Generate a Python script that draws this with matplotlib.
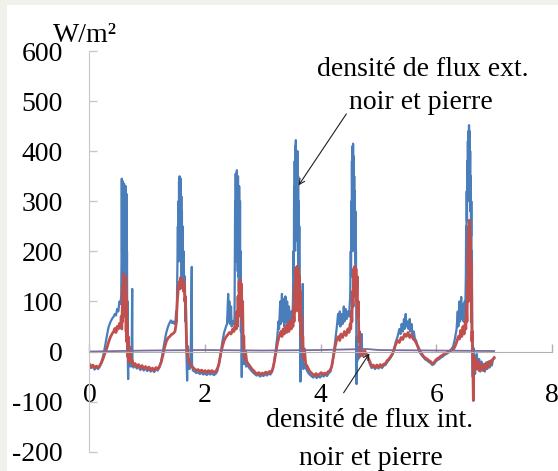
import matplotlib.pyplot as plt
from matplotlib.patches import Rectangle

# relevés (jours, W/m²)
# densité de flux ext. (bleu)
ext_pts = [
    (0.00, -30), (0.03, -33), (0.06, -30), (0.09, -36), (0.12, -31), (0.15, -35), (0.18, -30),
    (0.21, -20), (0.24, -8), (0.27, 10), (0.30, 30), (0.33, 48), (0.36, 58), (0.39, 65),
    (0.42, 70), (0.44, 75), (0.46, 72), (0.48, 85), (0.50, 80), (0.52, 100), (0.54, 95),
    (0.55, 112), (0.555, 180), (0.56, 345), (0.565, 200), (0.57, 330), (0.575, 150),
    (0.58, 340), (0.585, 220), (0.59, 310), (0.595, 160), (0.60, 335), (0.605, 200),
    (0.61, 320), (0.615, 140), (0.62, 300), (0.625, 180), (0.63, 330), (0.635, 120),
    (0.64, 315), (0.645, 90), (0.65, 200), (0.655, 30), (0.66, 100), (0.665, -20),
    (0.67, -55), (0.675, 10), (0.68, -30), (0.69, 0), (0.70, -25), (0.71, -10), (0.72, -30),
    (0.73, -20), (0.74, 125), (0.745, -25), (0.76, -32), (0.79, -28), (0.82, -34),
    (0.85, -30), (0.88, -37), (0.91, -32), (0.94, -38), (0.97, -33), (1.00, -39),
    (1.03, -35), (1.06, -40), (1.09, -36), (1.12, -41), (1.15, -35), (1.18, -38), (1.21, -32),
    (1.24, -20), (1.27, 0), (1.30, 20), (1.33, 38), (1.36, 50), (1.39, 58), (1.41, 62),
    (1.43, 57), (1.45, 60), (1.47, 55), (1.49, 62), (1.50, 80), (1.51, 60), (1.52, 150),
    (1.53, 250), (1.535, 180), (1.54, 300), (1.545, 200), (1.55, 340), (1.555, 250),
    (1.56, 350), (1.565, 220), (1.57, 330), (1.575, 180), (1.58, 345), (1.585, 200),
    (1.59, 310), (1.595, 150), (1.60, 280), (1.605, 130), (1.61, 250), (1.62, 140),
    (1.63, 200), (1.64, 120), (1.65, 150), (1.66, 60), (1.67, 90), (1.68, -10), (1.69, -58),
    (1.70, -10), (1.71, -30), (1.72, -15), (1.73, -35), (1.75, -30), (1.77, 169),
    (1.775, -25), (1.79, -38), (1.82, -40), (1.85, -43), (1.88, -41), (1.91, -45),
    (1.94, -42), (1.97, -46), (2.00, -43), (2.03, -47), (2.06, -43), (2.09, -46),
    (2.12, -43), (2.15, -47), (2.18, -45), (2.21, -40),
    (2.24, -25), (2.27, -5), (2.30, 20), (2.33, 38), (2.36, 49), (2.38, 55), (2.40, 115),
    (2.41, 60), (2.42, 100), (2.43, 55), (2.45, 90), (2.46, 50), (2.48, 60), (2.50, 55),
    (2.51, 70), (2.515, 200), (2.52, 300), (2.525, 180), (2.53, 355), (2.535, 220),
    (2.54, 340), (2.545, 180), (2.55, 362), (2.555, 210), (2.56, 330), (2.565, 160),
    (2.57, 350), (2.575, 150), (2.58, 310), (2.585, 120), (2.59, 330), (2.60, 150),
    (2.605, 300), (2.61, 100), (2.615, 200), (2.62, 40), (2.625, 100), (2.63, -10),
    (2.635, -51), (2.64, 0), (2.65, -20), (2.66, 10), (2.67, -25), (2.69, -15), (2.71, -30),
    (2.74, -28), (2.77, -34), (2.80, -38), (2.83, -42), (2.86, -45), (2.89, -48),
    (2.92, -46), (2.95, -50), (2.98, -47), (3.01, -49), (3.04, -45), (3.07, -48),
    (3.10, -44), (3.13, -46), (3.16, -40),
    (3.19, -25), (3.22, 0), (3.25, 30), (3.27, 60), (3.28, 45), (3.30, 100), (3.31, 55),
    (3.33, 115), (3.34, 60), (3.36, 105), (3.37, 50), (3.39, 110), (3.40, 60), (3.42, 100),
    (3.43, 55), (3.45, 90), (3.47, 60), (3.49, 80), (3.51, 65), (3.52, 100), (3.53, 200),
    (3.535, 150), (3.54, 330), (3.545, 200), (3.55, 380), (3.555, 250), (3.56, 410),
    (3.565, 280), (3.57, 422), (3.575, 300), (3.58, 400), (3.585, 250), (3.59, 370),
    (3.595, 220), (3.60, 400), (3.605, 200), (3.61, 350), (3.615, 150), (3.62, 300),
    (3.625, 120), (3.63, 250), (3.635, 80), (3.64, 150), (3.645, -20), (3.65, -60),
    (3.655, 20), (3.66, -30), (3.67, 10), (3.68, -25), (3.69, 135), (3.695, -20),
    (3.70, -35), (3.72, -25), (3.75, -35), (3.78, -42), (3.81, -46), (3.84, -49),
    (3.87, -52), (3.90, -48), (3.93, -53), (3.96, -49), (3.99, -52), (4.02, -47),
    (4.05, -50), (4.08, -46), (4.11, -49), (4.14, -43), (4.17, -40),
    (4.20, -25), (4.23, 0), (4.26, 30), (4.28, 50), (4.30, 75), (4.31, 55), (4.33, 80),
    (4.34, 50), (4.36, 75), (4.38, 55), (4.40, 90), (4.41, 60), (4.43, 85), (4.45, 65),
    (4.47, 80), (4.49, 70), (4.51, 110), (4.52, 200), (4.525, 150), (4.53, 300),
    (4.535, 200), (4.54, 380), (4.545, 260), (4.55, 410), (4.555, 280), (4.56, 415),
    (4.565, 300), (4.57, 390), (4.575, 250), (4.58, 350), (4.585, 200), (4.59, 320),
    (4.595, 180), (4.60, 280), (4.605, 120), (4.61, 200), (4.615, 60), (4.62, -65),
    (4.625, 30), (4.63, -20), (4.64, 10), (4.65, -15), (4.67, 5), (4.69, -5), (4.71, 35),
    (4.715, -2), (4.73, -8), (4.76, 0), (4.79, -8), (4.82, -15), (4.85, -25), (4.88, -33),
    (4.91, -30), (4.94, -35), (4.97, -30), (5.00, -34), (5.03, -29), (5.06, -33),
    (5.09, -28), (5.12, -27), (5.15, -21), (5.18, -17), (5.21, -12), (5.24, -6),
    (5.27, 5), (5.30, 20), (5.33, 30), (5.36, 45), (5.38, 35), (5.40, 55), (5.42, 40),
    (5.44, 65), (5.45, 45), (5.47, 75), (5.48, 50), (5.50, 60), (5.52, 45), (5.54, 65),
    (5.55, 40), (5.57, 55), (5.59, 30), (5.61, 40), (5.63, 25), (5.65, 22), (5.67, 12),
    (5.69, 5), (5.72, -3), (5.75, -8), (5.78, -12), (5.81, -16), (5.84, -18), (5.87, -21),
    (5.90, -23), (5.93, -27), (5.96, -25), (5.99, -20), (6.02, -17), (6.05, -15),
    (6.08, -12), (6.11, -10), (6.14, -7), (6.17, -5), (6.20, -3), (6.23, 0), (6.26, 5),
    (6.29, 10), (6.32, 25), (6.35, 45), (6.37, 80), (6.38, 50), (6.40, 100), (6.41, 60),
    (6.43, 109), (6.44, 65), (6.46, 95), (6.47, 60), (6.49, 100), (6.50, 80), (6.51, 150),
    (6.515, 250), (6.52, 200), (6.525, 320), (6.53, 260), (6.535, 380), (6.54, 300),
    (6.545, 420), (6.55, 330), (6.555, 440), (6.56, 350), (6.565, 452), (6.57, 360),
    (6.575, 440), (6.58, 330), (6.585, 400), (6.59, 280), (6.595, 350), (6.60, 230),
    (6.605, 300), (6.61, 150), (6.615, 200), (6.62, 50), (6.625, -20), (6.63, -51),
    (6.635, 10), (6.64, -30), (6.65, 5), (6.66, -25), (6.67, -45), (6.68, -10), (6.69, -30),
    (6.70, -5), (6.72, -35), (6.74, -15), (6.76, -40), (6.78, -20), (6.80, -38), (6.82, -25),
    (6.84, -40), (6.86, -22), (6.88, -35), (6.90, -20), (6.92, -32), (6.94, -18),
    (6.96, -28), (6.98, -15), (7.00, -14),
]

# densité de flux int. (rouge)
int_pts = [
    (0.00, -25), (0.03, -30), (0.06, -27), (0.09, -33), (0.12, -29), (0.15, -32), (0.18, -28),
    (0.21, -22), (0.24, -13), (0.27, -3), (0.30, 6), (0.33, 18), (0.36, 28), (0.39, 35),
    (0.42, 40), (0.44, 46), (0.46, 38), (0.48, 50), (0.50, 45), (0.52, 56), (0.54, 50),
    (0.55, 70), (0.56, 45), (0.57, 95), (0.575, 60), (0.58, 130), (0.585, 90), (0.59, 155),
    (0.595, 100), (0.60, 150), (0.605, 80), (0.61, 145), (0.615, 90), (0.62, 150),
    (0.625, 70), (0.63, 140), (0.635, 40), (0.64, 110), (0.645, 20), (0.65, 60), (0.66, -10),
    (0.67, 30), (0.68, -20), (0.69, 10), (0.70, -15), (0.71, 5), (0.72, -22), (0.74, -18),
    (0.76, -28), (0.79, -24), (0.82, -30), (0.85, -26), (0.88, -33), (0.91, -28),
    (0.94, -34), (0.97, -30), (1.00, -35), (1.03, -31), (1.06, -37), (1.09, -33),
    (1.12, -38), (1.15, -32), (1.18, -35), (1.21, -30),
    (1.24, -22), (1.27, -8), (1.30, 8), (1.33, 20), (1.36, 27), (1.39, 30), (1.42, 34),
    (1.45, 36), (1.48, 40), (1.50, 55), (1.52, 100), (1.54, 130), (1.56, 140), (1.57, 125),
    (1.58, 148), (1.59, 135), (1.60, 145), (1.61, 130), (1.62, 142), (1.63, 120),
    (1.64, 135), (1.65, 100), (1.66, 110), (1.67, 60), (1.68, 20), (1.69, -5), (1.70, 10),
    (1.71, -15), (1.72, -20), (1.74, -25), (1.76, -28), (1.79, -32), (1.82, -35),
    (1.85, -38), (1.88, -36), (1.91, -40), (1.94, -37), (1.97, -41), (2.00, -38),
    (2.03, -42), (2.06, -38), (2.09, -41), (2.12, -38), (2.15, -42), (2.18, -40), (2.21, -35),
    (2.24, -25), (2.27, -5), (2.30, 10), (2.33, 22), (2.36, 29), (2.39, 33), (2.42, 38),
    (2.45, 35), (2.48, 45), (2.50, 40), (2.52, 55), (2.54, 45), (2.55, 80), (2.56, 50),
    (2.57, 110), (2.58, 70), (2.59, 140), (2.60, 90), (2.61, 142), (2.62, 80), (2.63, 135),
    (2.64, 60), (2.65, 100), (2.66, 10), (2.67, 30), (2.68, -15), (2.70, 0), (2.72, -20),
    (2.75, -25), (2.78, -30), (2.81, -35), (2.84, -38), (2.87, -42), (2.90, -45),
    (2.93, -42), (2.96, -46), (2.99, -43), (3.02, -45), (3.05, -41), (3.08, -44),
    (3.11, -40), (3.14, -42), (3.17, -35),
    (3.19, -25), (3.22, -5), (3.25, 15), (3.28, 30), (3.31, 40), (3.33, 30), (3.35, 45),
    (3.37, 35), (3.39, 50), (3.41, 38), (3.43, 55), (3.45, 40), (3.47, 60), (3.49, 45),
    (3.51, 65), (3.52, 50), (3.53, 90), (3.54, 60), (3.55, 130), (3.56, 80), (3.57, 165),
    (3.58, 100), (3.59, 170), (3.60, 90), (3.61, 165), (3.62, 80), (3.63, 150), (3.64, 60),
    (3.65, 120), (3.66, 30), (3.67, 70), (3.68, 0), (3.69, 30), (3.70, -15), (3.72, 5),
    (3.74, -25), (3.77, -30), (3.80, -38), (3.83, -42), (3.86, -45), (3.89, -48),
    (3.92, -44), (3.95, -48), (3.98, -45), (4.01, -42), (4.04, -46), (4.07, -43),
    (4.10, -45), (4.13, -40), (4.16, -38), (4.19, -30),
    (4.22, -10), (4.25, 10), (4.28, 25), (4.31, 30), (4.33, 22), (4.35, 35), (4.38, 28),
    (4.41, 40), (4.44, 32), (4.47, 45), (4.49, 38), (4.51, 55), (4.52, 45), (4.53, 80),
    (4.54, 60), (4.55, 120), (4.56, 90), (4.57, 165), (4.58, 110), (4.59, 170), (4.60, 120),
    (4.61, 165), (4.62, 100), (4.63, 150), (4.64, 70), (4.65, 100), (4.66, 20), (4.67, 40),
    (4.68, -10), (4.70, 0), (4.73, -8), (4.76, 2), (4.79, -5), (4.82, -12), (4.85, -20),
    (4.88, -30), (4.91, -27), (4.94, -32), (4.97, -27), (5.00, -31), (5.03, -26),
    (5.06, -30), (5.09, -25), (5.12, -24), (5.15, -18), (5.18, -15), (5.21, -10), (5.24, -5),
    (5.27, 5), (5.30, 15), (5.33, 22), (5.36, 18), (5.39, 28), (5.42, 24), (5.45, 35),
    (5.48, 30), (5.51, 38), (5.54, 28), (5.57, 34), (5.60, 25), (5.63, 22), (5.66, 15),
    (5.69, 8), (5.72, 0), (5.75, -5), (5.78, -10), (5.81, -13), (5.84, -15), (5.87, -18),
    (5.90, -20), (5.93, -24), (5.96, -22), (5.99, -17), (6.02, -14), (6.05, -12),
    (6.08, -9), (6.11, -7), (6.14, -5), (6.17, -3), (6.20, -1), (6.23, 1), (6.26, 3),
    (6.30, 5), (6.33, 12), (6.36, 22), (6.38, 30), (6.40, 25), (6.42, 42), (6.44, 30),
    (6.46, 50), (6.48, 35), (6.50, 60), (6.51, 45), (6.52, 90), (6.53, 60), (6.54, 140),
    (6.545, 100), (6.55, 200), (6.555, 140), (6.56, 250), (6.565, 170), (6.57, 262),
    (6.575, 160), (6.58, 240), (6.585, 130), (6.59, 220), (6.595, 100), (6.60, 180),
    (6.605, 60), (6.61, 120), (6.615, 20), (6.62, 40), (6.63, -20), (6.64, -98),
    (6.645, -40), (6.65, -10), (6.66, -30), (6.68, -15), (6.70, -35), (6.72, -20),
    (6.74, -38), (6.76, -25), (6.78, -35), (6.80, -28), (6.82, -38), (6.84, -25),
    (6.86, -33), (6.88, -22), (6.90, -30), (6.92, -20), (6.94, -25), (6.96, -18),
    (6.98, -15), (7.00, -12),
]

# troisième courbe, proche de zéro (violet)
amb_pts = [(0.0, 0), (1.0, 2), (2.0, 3), (3.0, 2), (4.0, 3), (4.8, 5), (5.0, 3), (6.0, 2), (7.0, 1)]

y_ticks = [-200, -100, 0, 100, 200, 300, 400, 500, 600]
x_ticks = [0, 2, 4, 6, 8]

plt.rcParams['font.family'] = ['Liberation Serif', 'DejaVu Serif']
plt.rcParams['axes.unicode_minus'] = False
fs = 20

fig = plt.figure(figsize=(5.58, 4.71), dpi=100)
fig.patch.set_facecolor('#f1f1ec')
fig.patches.append(Rectangle((7 / 558, 0), 1, 1 - 5 / 471, transform=fig.transFigure,
                             facecolor='white', edgecolor='none', zorder=-10))

ax = fig.add_axes([89.4 / 558, 19.3 / 471, (552 - 89.4) / 558, 400.7 / 471])
ax.set_facecolor('none')
ax.set_zorder(5)

ax.plot([p[0] for p in ext_pts], [p[1] for p in ext_pts], color='#4a7ebb', lw=1.6)
ax.plot([p[0] for p in int_pts], [p[1] for p in int_pts], color='#c0504d', lw=2.0)
ax.plot([p[0] for p in amb_pts], [p[1] for p in amb_pts], color='#7b6c9c', lw=1.3)

ax.set_xlim(0, 8)
ax.set_ylim(-200, 600)
ax.set_xticks(x_ticks)
ax.set_yticks(y_ticks)

for s in ['top', 'right']:
    ax.spines[s].set_visible(False)
ax.spines['bottom'].set_position(('data', 0))
ax.spines['left'].set_color('#c8c8c8')
ax.spines['bottom'].set_color('#b0b0b0')

ax.tick_params(axis='y', direction='in', length=6, width=1, color='#c8c8c8', pad=19, labelsize=fs)
ax.tick_params(axis='x', direction='in', length=6, width=1, color='#b0b0b0', pad=23, labelsize=fs)

ax.text(-0.63, 618, "W/m²", fontsize=fs, ha='left', va='baseline')

# annotations
ax.annotate("", xy=(3.59, 327), xytext=(4.47, 479),
            arrowprops=dict(arrowstyle='->', color='#202020', lw=0.8))
ax.text(5.77, 563, "densité de flux ext.", fontsize=fs, ha='center', va='center')
ax.text(5.74, 497, "noir et pierre", fontsize=fs, ha='center', va='center')

ax.annotate("", xy=(4.87, 1), xytext=(4.37, -87),
            arrowprops=dict(arrowstyle='->', color='#202020', lw=0.8))
ax.text(4.85, -137, "densité de flux int.", fontsize=fs, ha='center', va='center')
ax.text(4.87, -213, "noir et pierre", fontsize=fs, ha='center', va='center')

fig.savefig("out.png", dpi=100, facecolor=fig.get_facecolor())
